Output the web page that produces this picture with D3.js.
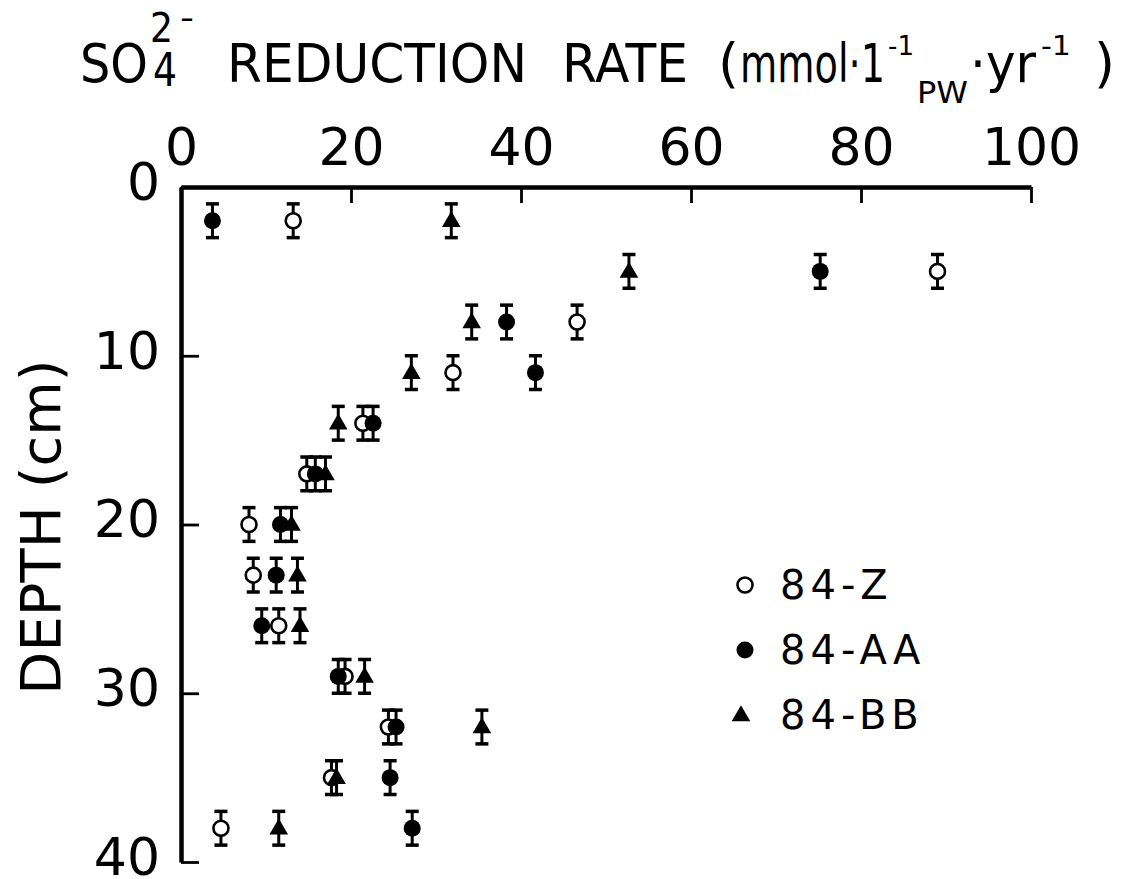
<!DOCTYPE html>
<html>
<head>
<meta charset="utf-8">
<script src="https://cdn.jsdelivr.net/npm/d3@7/dist/d3.min.js"></script>
<style>
  html, body { margin: 0; padding: 0; background: #fff; }
  text { font-family: "DejaVu Sans", "Liberation Sans", sans-serif; fill: #000; }
</style>
</head>
<body>
<script>
// Sample depths (cm) and sulfate reduction rates (mmol per litre porewater per year)
const depths = [2, 5, 8, 11, 14, 17, 20, 23, 26, 29, 32, 35, 38];
const rate84Z  = [13.2, 89.0, 46.6, 32.0, 21.4, 14.8, 8.0, 8.5, 11.5, 19.3, 24.4, 17.7, 4.7];
const rate84AA = [3.7, 75.2, 38.3, 41.7, 22.6, 15.8, 11.7, 11.2, 9.5, 18.5, 25.3, 24.6, 27.2];
const rate84BB = [31.8, 52.7, 34.2, 27.1, 18.5, 17.0, 13.0, 13.7, 14.0, 21.6, 35.4, 18.3, 11.5];
// half-width of each sampled depth interval (cm)
const depthHalfWidth = [1, 1, 1, 1, 1, 1, 1, 1, 1, 1, 1, 1, 1];

const seriesNames = ["84-Z", "84-AA", "84-BB"];
const seriesValues = [rate84Z, rate84AA, rate84BB];
const seriesSymbols = ["openCircle", "filledCircle", "triangle"];

const xTicks = [0, 20, 40, 60, 80, 100];
const yTicks = [0, 10, 20, 30, 40];

const W = 1126, H = 879;
const svg = d3.select("body").append("svg").attr("width", W).attr("height", H);

const x = d3.scaleLinear().domain([0, 100]).range([181, 1031]);
const y = d3.scaleLinear().domain([0, 40]).range([187, 862]);

// ---- axes ----
const xAxis = d3.axisTop(x).tickValues(xTicks).tickSize(-16).tickSizeOuter(0).tickPadding(22).tickFormat(d3.format("d"));
const gx = svg.append("g").attr("transform", `translate(0,${y(0)})`).call(xAxis);

const yAxis = d3.axisLeft(y).tickValues(yTicks).tickSize(-18).tickSizeOuter(0).tickPadding(21).tickFormat(d3.format("d"));
const gy = svg.append("g").attr("transform", `translate(${x(0)},0)`).call(yAxis);

[gx, gy].forEach(g => {
  g.select(".domain").attr("stroke", "#000").attr("stroke-width", 4.5);
  g.selectAll(".tick line").attr("stroke", "#000").attr("stroke-width", 2.8);
  g.selectAll(".tick text")
    .attr("fill", "#000")
    .style("font-family", '"DejaVu Sans", sans-serif')
    .style("font-size", "52px");
});
gx.selectAll(".tick text").attr("dy", 0);
gy.selectAll(".tick text").attr("dy", "0.24em");

// ---- axis titles ----
// one text element; each piece placed with its own x / baseline
const title = svg.append("text").attr("y", 82).style("font-size", "54px");
function piece(s, px, py, size, len) {
  const t = title.append("tspan").attr("x", px).attr("y", py).style("font-size", size + "px").text(s);
  if (len) t.attr("textLength", len).attr("lengthAdjust", "spacingAndGlyphs");
  return t;
}
piece("SO", 80, 82, 54, 68);
piece("4", 153, 86, 46, 24);
piece("2", 150, 42, 40, 23);
piece("-", 180, 28, 30, 14);
piece("REDUCTION", 227, 82, 54, 300);
piece("RATE", 562, 82, 54, 126);
piece("(", 718, 82, 54);
piece("mmol\u00B71", 740, 82, 54, 145);
piece("-1", 888, 55, 26, 26);
piece("PW", 917, 103, 30, 51);
piece("\u00B7yr", 970, 82, 54, 66);
piece("-1", 1041, 55, 26, 30);
piece(")", 1094, 82, 54);

svg.append("text")
  .attr("transform", "translate(60,527) rotate(-90)")
  .attr("text-anchor", "middle")
  .style("font-size", "56px")
  .text("DEPTH (cm)");

// ---- markers ----
const triangle = d3.symbol().type(d3.symbolTriangle).size(150);

function drawMarker(g, kind, cx, cy) {
  if (kind === "triangle") {
    g.append("path").attr("d", triangle()).attr("transform", `translate(${cx},${cy + 1})`).attr("fill", "#000");
  } else {
    g.append("circle").attr("cx", cx).attr("cy", cy)
      .attr("r", kind === "openCircle" ? 7.5 : 8.5)
      .attr("fill", kind === "openCircle" ? "#fff" : "#000")
      .attr("stroke", "#000")
      .attr("stroke-width", kind === "openCircle" ? 2.6 : 0);
  }
}

const capHalf = 6.5;
seriesValues.forEach((vals, si) => {
  const g = svg.append("g").attr("class", "series-" + seriesNames[si]);
  vals.forEach((v, i) => {
    const cx = x(v);
    const yTop = y(depths[i] - depthHalfWidth[i]);
    const yBot = y(depths[i] + depthHalfWidth[i]);
    g.append("line").attr("x1", cx).attr("x2", cx).attr("y1", yTop).attr("y2", yBot)
      .attr("stroke", "#000").attr("stroke-width", 3);
    [yTop, yBot].forEach(yy => {
      g.append("line").attr("x1", cx - capHalf).attr("x2", cx + capHalf).attr("y1", yy).attr("y2", yy)
        .attr("stroke", "#000").attr("stroke-width", 3.5);
    });
    drawMarker(g, seriesSymbols[si], cx, y(depths[i]));
  });
});

// ---- legend ----
const legendRows = [585, 650, 715];
const legend = svg.append("g");
seriesNames.forEach((name, i) => {
  const cy = legendRows[i];
  drawMarker(legend, seriesSymbols[i], i === 2 ? 741 : 745, cy);
  legend.append("text")
    .attr("x", 780).attr("y", cy + 14)
    .style("font-size", "40px")
    .style("letter-spacing", "5px")
    .text(name);
});
</script>
</body>
</html>
